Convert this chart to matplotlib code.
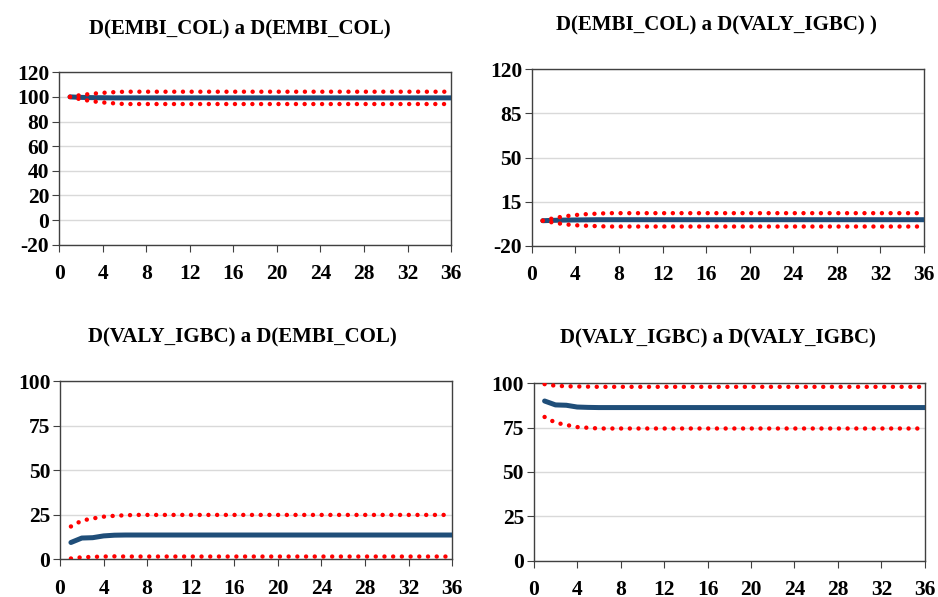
import matplotlib
matplotlib.use("Agg")
import matplotlib.pyplot as plt

periods = list(range(1, 37))

# D(EMBI_COL) a D(EMBI_COL)
embi_embi_mean = [100, 99.6, 99.4, 99.3, 99.2] + [99.2] * 31
embi_embi_upper = [100, 101.5, 102.5, 103.3, 103.8] + [104.2] * 31
embi_embi_lower = [100, 98.0, 96.5, 95.5, 94.8] + [94.2] * 31

# D(EMBI_COL) a D(VALY_IGBC)
embi_valy_mean = [0, 0.3, 0.5, 0.6, 0.7] + [0.8] * 31
embi_valy_upper = [0, 2.0, 3.5, 4.5, 5.2, 5.6] + [6.0] * 30
embi_valy_lower = [0, -1.5, -2.8, -3.6, -4.0, -4.3] + [-4.6] * 30

# D(VALY_IGBC) a D(EMBI_COL)
valy_embi_mean = [9.5, 12.0, 12.2, 13.2, 13.6] + [13.7] * 31
valy_embi_upper = [18.5, 21.8, 23.0, 24.0, 24.5, 24.8] + [25.0] * 30
valy_embi_lower = [0.5, 1.2, 1.4, 1.6, 1.7] + [1.6] * 31

# D(VALY_IGBC) a D(VALY_IGBC)
valy_valy_mean = [90.0, 87.8, 87.6, 86.6, 86.4] + [86.3] * 31
valy_valy_upper = [99.5, 98.6, 98.3, 98.2, 98.1] + [98.0] * 31
valy_valy_lower = [81.0, 77.8, 76.5, 75.3, 74.9] + [74.5] * 31

titles = [
    "D(EMBI_COL) a D(EMBI_COL)",
    "D(EMBI_COL) a D(VALY_IGBC) )",
    "D(VALY_IGBC) a D(EMBI_COL)",
    "D(VALY_IGBC) a D(VALY_IGBC)",
]
yticks = [
    [-20, 0, 20, 40, 60, 80, 100, 120],
    [-20, 15, 50, 85, 120],
    [0, 25, 50, 75, 100],
    [0, 25, 50, 75, 100],
]
xticks = list(range(0, 37, 4))

panels = [
    (embi_embi_mean, embi_embi_upper, embi_embi_lower),
    (embi_valy_mean, embi_valy_upper, embi_valy_lower),
    (valy_embi_mean, valy_embi_upper, valy_embi_lower),
    (valy_valy_mean, valy_valy_upper, valy_valy_lower),
]

# axes boxes in figure fractions: left, bottom, width, height
boxes = [
    (0.063, 0.590, 0.418, 0.289),
    (0.567, 0.588, 0.418, 0.296),
    (0.064, 0.063, 0.418, 0.298),
    (0.569, 0.061, 0.417, 0.297),
]
title_pos = [(0.256, 0.950), (0.764, 0.958), (0.258, 0.435), (0.765, 0.433)]

plt.rcParams["font.family"] = "Liberation Serif"
plt.rcParams["font.weight"] = "bold"
plt.rcParams["axes.unicode_minus"] = False

fig = plt.figure(figsize=(9.38, 5.97), dpi=100)
blue = "#1f4e79"
red = "#ff0000"

for (mean, upper, lower), box, title, yt, tp in zip(panels, boxes, titles, yticks, title_pos):
    ax = fig.add_axes(box)
    ax.plot(periods, mean, color=blue, lw=3.6, solid_capstyle="round", zorder=3)
    for band in (upper, lower):
        ax.plot(periods, band, color=red, lw=3.2, linestyle=(0, (0.01, 1.95)),
                dash_capstyle="round", zorder=4)
    ax.set_xlim(0, 36)
    ax.set_ylim(yt[0], yt[-1])
    ax.set_xticks(xticks)
    ax.set_yticks(yt)
    ax.grid(axis="y", color="#d9d9d9", lw=1)
    ax.set_axisbelow(True)
    for s in ax.spines.values():
        s.set_color("#404040")
        s.set_linewidth(1)
    ax.tick_params(axis="both", labelsize=15.5, length=5, color="#404040")
    ax.tick_params(axis="y", pad=2)
    ax.tick_params(axis="x", pad=9)
    for lab in ax.get_xticklabels() + ax.get_yticklabels():
        lab.set_fontweight("bold")
    fig.text(tp[0], tp[1], title, ha="center", va="center", fontsize=15, fontweight="bold")

fig.savefig("out.png", dpi=100)
